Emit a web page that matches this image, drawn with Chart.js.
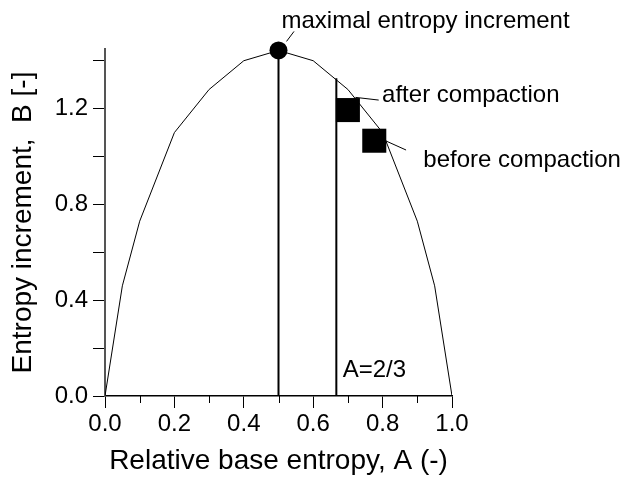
<!DOCTYPE html>
<html>
<head>
<meta charset="utf-8">
<script src="https://cdn.jsdelivr.net/npm/chart.js@4"></script>
<style>
  html, body { margin: 0; padding: 0; background: #fff; }
  canvas { display: block; }
</style>
</head>
<body>
<canvas id="chart" width="629" height="478"></canvas>
<script>
// --- Data ---
const baseEntropy = [0, 0.05, 0.1, 0.2, 0.3, 0.4, 0.5, 0.6, 0.7, 0.8, 0.9, 0.95, 1.0];
const entropyIncrement = [0, 0.46, 0.73, 1.10, 1.28, 1.40, 1.443, 1.40, 1.28, 1.10, 0.73, 0.46, 0];

const maxA = 0.5;
const maxB = 1.443;

const limitA = 2 / 3;
const limitTopB = 1.327;

const compactionLabels = ['after compaction', 'before compaction'];
const compactionA = [0.700, 0.776];
const compactionB = [1.194, 1.066];

const maxLabel = 'maximal entropy increment';
const limitLabel = 'A=2/3';

const xTitle = 'Relative base entropy, A (-)';
const yTitle = 'Entropy increment,  B [-]';

const FONT = '"Liberation Sans", Arial, Helvetica, sans-serif';

// --- Minor ticks + annotations ---
const annotate = {
  id: 'annotate',
  afterDatasetsDraw(chart) {
    const { ctx, scales: { x, y } } = chart;
    ctx.save();
    ctx.strokeStyle = '#000';
    ctx.lineWidth = 1;

    // minor x ticks halfway between labelled ones
    const t = x.ticks;
    for (let i = 0; i < t.length - 1; i++) {
      const px = Math.round(x.getPixelForValue((t[i].value + t[i + 1].value) / 2)) + 0.5;
      ctx.beginPath();
      ctx.moveTo(px, y.bottom);
      ctx.lineTo(px, y.bottom + 7);
      ctx.stroke();
    }

    ctx.font = '24px ' + FONT;
    ctx.fillStyle = '#000';
    ctx.textBaseline = 'alphabetic';
    ctx.textAlign = 'left';

    const note = (a, b, line, text, tx, ty) => {
      const ax = x.getPixelForValue(a);
      const ay = y.getPixelForValue(b);
      if (line) {
        ctx.beginPath();
        ctx.moveTo(ax + line[0], ay + line[1]);
        ctx.lineTo(ax + line[2], ay + line[3]);
        ctx.stroke();
      }
      ctx.fillText(text, ax + tx, ay + ty);
    };

    note(maxA, maxB, [8, -9, 15.5, -19], maxLabel, 3, -22.4);
    note(compactionA[0], compactionB[0], [7.5, -12.7, 30.8, -10], compactionLabels[0], 34.2, -8.3);
    note(compactionA[1], compactionB[1], [11.8, 0.3, 31.8, 9.3], compactionLabels[1], 49.1, 26);
    note(limitA, 0, null, limitLabel, 6.4, -19.3);

    ctx.restore();
  }
};

const ctx = document.getElementById('chart').getContext('2d');

new Chart(ctx, {
  type: 'scatter',
  data: {
    datasets: [
      {
        // maximum marker
        data: [{ x: maxA, y: maxB }],
        pointStyle: 'circle',
        pointRadius: 9,
        pointBackgroundColor: '#000',
        pointBorderColor: '#000',
        pointBorderWidth: 0,
        clip: false
      },
      {
        // compaction squares
        data: compactionA.map((a, i) => ({ x: a, y: compactionB[i] })),
        pointStyle: 'rect',
        pointRadius: 17,
        pointBackgroundColor: '#000',
        pointBorderColor: '#000',
        pointBorderWidth: 0,
        clip: false
      },
      {
        // vertical at A = 0.5
        data: [{ x: maxA, y: 0 }, { x: maxA, y: maxB }],
        showLine: true,
        borderColor: '#000',
        borderWidth: 2,
        pointRadius: 0
      },
      {
        // vertical at A = 2/3
        data: [{ x: limitA, y: 0 }, { x: limitA, y: limitTopB }],
        showLine: true,
        borderColor: '#000',
        borderWidth: 2,
        pointRadius: 0
      },
      {
        // entropy curve
        data: baseEntropy.map((a, i) => ({ x: a, y: entropyIncrement[i] })),
        showLine: true,
        borderColor: '#000',
        borderWidth: 1,
        pointRadius: 0,
        tension: 0
      }
    ]
  },
  options: {
    responsive: false,
    animation: false,
    events: [],
    layout: { padding: { left: 0, top: 49, right: 177, bottom: 0 } },
    plugins: {
      legend: { display: false },
      tooltip: { enabled: false }
    },
    scales: {
      x: {
        type: 'linear',
        min: 0,
        max: 1,
        afterFit: s => { s.height = 82; },
        border: { display: true, color: '#000', width: 1.5 },
        grid: { drawOnChartArea: false, drawTicks: true, tickLength: 12, tickColor: '#000', tickWidth: 1 },
        ticks: {
          stepSize: 0.2,
          autoSkip: false,
          maxRotation: 0,
          padding: 2,
          color: '#000',
          font: { family: FONT, size: 24 },
          callback: v => v.toFixed(1)
        },
        title: {
          display: true,
          text: xTitle,
          color: '#000',
          font: { family: FONT, size: 28 },
          padding: { top: 0, bottom: 0 }
        }
      },
      y: {
        type: 'linear',
        min: 0,
        max: 1.449,
        afterFit: s => { s.width = 105; },
        border: { display: true, color: '#555', width: 2 },
        grid: { drawOnChartArea: false, drawTicks: true, tickLength: 12, tickColor: '#000', tickWidth: 1 },
        ticks: {
          stepSize: 0.2,
          includeBounds: false,
          autoSkip: false,
          padding: 5,
          color: '#000',
          font: { family: FONT, size: 24 },
          callback: v => (Math.round(v * 10) % 4 === 0 ? v.toFixed(1) : '')
        },
        title: {
          display: true,
          text: yTitle,
          color: '#000',
          font: { family: FONT, size: 28 },
          padding: { top: 6, bottom: 0 }
        }
      }
    }
  },
  plugins: [annotate]
});
</script>
</body>
</html>
